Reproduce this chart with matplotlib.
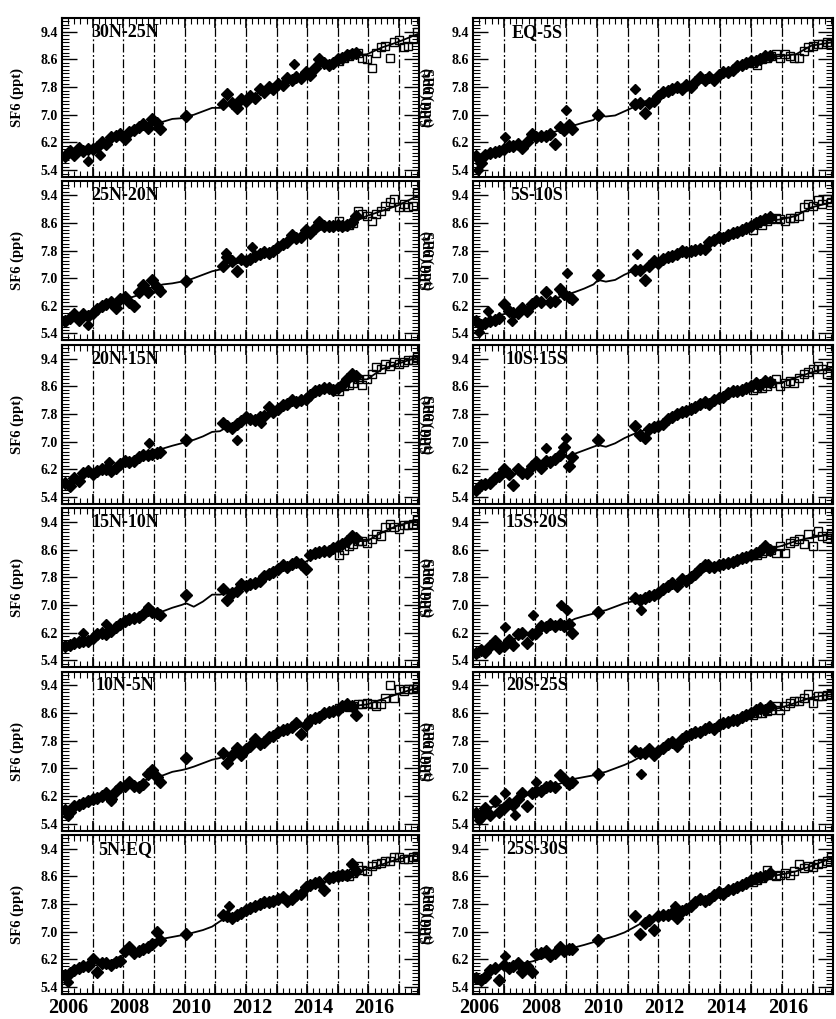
import numpy as np
import matplotlib
matplotlib.use("Agg")
import matplotlib.pyplot as plt
from matplotlib.ticker import FixedLocator, MultipleLocator

# latitude bands, left column then right column
BANDS_LEFT = ["30N-25N", "25N-20N", "20N-15N", "15N-10N", "10N-5N", "5N-EQ"]
BANDS_RIGHT = ["EQ-5S", "5S-10S", "10S-15S", "15S-20S", "20S-25S", "25S-30S"]

# sampling times (decimal year), shared by all bands
DIA_T = [2005.9, 2006.05, 2006.2, 2006.35, 2006.5, 2006.65, 2006.8, 2006.95,
         2007.1, 2007.25, 2007.4, 2007.55, 2007.7, 2007.85, 2008.0, 2008.15,
         2008.3, 2008.45, 2008.6, 2008.75, 2008.9, 2009.0,
         2009.85,
         2011.05, 2011.2, 2011.35, 2011.5, 2011.65, 2011.8, 2011.95, 2012.1,
         2012.25, 2012.4, 2012.55, 2012.7, 2012.85, 2013.0, 2013.15, 2013.3,
         2013.45, 2013.6, 2013.75, 2013.9, 2014.05, 2014.2, 2014.35, 2014.5,
         2014.65, 2014.8, 2014.95, 2015.1, 2015.25, 2015.4]
SQ_T = [2014.85, 2015.0, 2015.15, 2015.3, 2015.45, 2015.6, 2015.75, 2015.9,
        2016.05, 2016.2, 2016.35, 2016.5, 2016.65, 2016.8, 2016.95, 2017.1,
        2017.25, 2017.4]
LINE_T = [2005.85, 2006.25, 2006.75, 2007.25, 2007.75, 2008.25, 2008.75,
          2009.1, 2009.4, 2009.7, 2009.85, 2010.1, 2010.4, 2010.7, 2010.95,
          2011.25, 2011.75, 2012.25, 2012.75, 2013.25, 2013.75, 2014.25,
          2014.75, 2015.25, 2015.75, 2016.25, 2016.75, 2017.45]

# SF6 (ppt), filled diamonds
DIA_Y = {
    "30N-25N": [5.80, 5.95, 5.85, 6.05, 5.95, 6.0, 6.02, 6.08, 6.2, 6.15, 6.35,
                6.4, 6.45, 6.3, 6.5, 6.55, 6.65, 6.72, 6.62, 6.88, 6.75, 6.6,
                6.97,
                7.3, 7.6, 7.35, 7.2, 7.45, 7.4, 7.55, 7.5, 7.75, 7.65, 7.8,
                7.75, 7.9, 7.85, 8.05, 8.0, 8.1, 8.05, 8.25, 8.15, 8.35, 8.6,
                8.5, 8.45, 8.5, 8.62, 8.65, 8.72, 8.75, 8.8],
    "25N-20N": [5.75, 5.85, 5.95, 5.8, 5.95, 5.9, 6.0, 6.1, 6.2, 6.25, 6.3,
                6.15, 6.4, 6.45, 6.3, 6.2, 6.6, 6.8, 6.6, 6.95, 6.75, 6.62,
                6.92,
                7.35, 7.6, 7.5, 7.2, 7.55, 7.5, 7.55, 7.65, 7.7, 7.75, 7.72,
                7.8, 7.9, 8.0, 8.05, 8.25, 8.15, 8.2, 8.4, 8.3, 8.45, 8.62,
                8.5, 8.5, 8.5, 8.55, 8.52, 8.55, 8.62, 8.8],
    "20N-15N": [5.8, 5.72, 5.95, 5.85, 6.1, 6.15, 6.05, 6.15, 6.2, 6.2, 6.15,
                6.25, 6.35, 6.45, 6.4, 6.45, 6.55, 6.6, 6.6, 6.65, 6.68, 6.7,
                7.05,
                7.55, 7.45, 7.4, 7.5, 7.6, 7.7, 7.65, 7.62, 7.7, 7.75, 8.0,
                7.85, 7.95, 8.05, 8.1, 8.2, 8.15, 8.2, 8.22, 8.35, 8.45, 8.5,
                8.55, 8.55, 8.5, 8.55, 8.65, 8.8, 8.95, 8.9],
    "15N-10N": [5.8, 5.85, 5.9, 5.92, 5.95, 5.95, 6.05, 6.15, 6.2, 6.15, 6.25,
                6.35, 6.45, 6.55, 6.6, 6.62, 6.65, 6.75, 6.85, 6.8, 6.78, 6.7,
                7.3,
                7.45, 7.15, 7.35, 7.4, 7.6, 7.55, 7.6, 7.65, 7.7, 7.85, 7.9,
                7.95, 8.05, 8.15, 8.1, 8.2, 8.25, 8.2, 8.05, 8.45, 8.5, 8.52,
                8.55, 8.55, 8.65, 8.7, 8.75, 8.85, 9.0, 8.95],
    "10N-5N": [5.8, 5.75, 5.9, 5.95, 6.0, 6.05, 6.1, 6.15, 6.2, 6.3, 6.1,
               6.35, 6.45, 6.5, 6.6, 6.5, 6.45, 6.55, 6.85, 6.95, 6.75, 6.6,
               7.3,
               7.45, 7.15, 7.4, 7.6, 7.4, 7.55, 7.65, 7.85, 7.7, 7.75, 7.9,
               7.95, 8.05, 8.1, 8.15, 8.2, 8.3, 8.0, 8.25, 8.4, 8.45, 8.5,
               8.6, 8.62, 8.65, 8.7, 8.8, 8.85, 8.8, 8.55],
    "5N-EQ": [5.75, 5.8, 5.9, 5.95, 6.0, 6.0, 6.2, 5.85, 6.1, 6.1, 6.05,
              6.12, 6.15, 6.45, 6.55, 6.4, 6.45, 6.5, 6.55, 6.65, 7.0, 6.75,
              6.95,
              7.5, 7.45, 7.4, 7.5, 7.55, 7.62, 7.7, 7.75, 7.8, 7.85, 7.85,
              7.9, 7.95, 8.0, 7.9, 7.95, 8.05, 8.1, 8.3, 8.35, 8.4, 8.45,
              8.2, 8.55, 8.58, 8.6, 8.65, 8.65, 8.95, 8.75],
    "EQ-5S": [5.8, 5.6, 5.85, 5.9, 5.92, 5.95, 6.0, 6.1, 6.1, 6.15, 6.05,
              6.2, 6.45, 6.35, 6.4, 6.4, 6.45, 6.15, 6.65, 6.55, 6.7, 6.6,
              7.0,
              7.3, 7.35, 7.05, 7.35, 7.4, 7.55, 7.65, 7.7, 7.75, 7.8, 7.75,
              7.85, 7.8, 7.95, 8.1, 8.0, 8.1, 8.0, 8.15, 8.25, 8.25, 8.3,
              8.4, 8.45, 8.5, 8.55, 8.55, 8.6, 8.7, 8.7],
    "5S-10S": [5.75, 5.65, 5.7, 5.75, 5.8, 5.85, 6.25, 6.05, 6.0, 6.0, 6.15,
               6.05, 6.25, 6.35, 6.3, 6.6, 6.3, 6.35, 6.7, 6.55, 6.45, 6.4,
               7.1,
               7.25, 7.25, 6.95, 7.35, 7.5, 7.45, 7.55, 7.6, 7.65, 7.7, 7.8,
               7.75, 7.78, 7.82, 7.85, 7.85, 8.05, 8.1, 8.2, 8.15, 8.25, 8.3,
               8.35, 8.4, 8.45, 8.5, 8.6, 8.65, 8.7, 8.78],
    "10S-15S": [5.6, 5.75, 5.78, 5.8, 5.95, 6.0, 6.2, 6.05, 5.75, 6.2, 6.1,
                6.1, 6.3, 6.4, 6.25, 6.45, 6.4, 6.5, 6.6, 6.85, 6.3, 6.55,
                7.05,
                7.45, 7.2, 7.1, 7.35, 7.42, 7.45, 7.5, 7.65, 7.7, 7.8, 7.85,
                7.88, 7.95, 8.0, 8.1, 8.15, 8.1, 8.2, 8.25, 8.3, 8.4, 8.45,
                8.45, 8.5, 8.55, 8.6, 8.7, 8.65, 8.75, 8.72],
    "15S-20S": [5.6, 5.7, 5.65, 5.8, 5.95, 5.75, 5.8, 6.0, 5.85, 6.15, 6.2,
                5.9, 6.15, 6.2, 6.4, 6.35, 6.45, 6.4, 6.45, 6.4, 6.45, 6.2,
                6.8,
                7.2, 7.15, 7.2, 7.25, 7.3, 7.35, 7.45, 7.55, 7.65, 7.55, 7.75,
                7.7, 7.8, 7.9, 8.05, 8.15, 8.1, 8.1, 8.15, 8.2, 8.22, 8.25,
                8.3, 8.35, 8.4, 8.45, 8.5, 8.55, 8.7, 8.6],
    "20S-25S": [5.7, 5.6, 5.85, 5.65, 6.05, 5.75, 5.85, 6.0, 5.95, 6.1, 6.3,
                5.9, 6.3, 6.35, 6.35, 6.45, 6.5, 6.45, 6.8, 6.7, 6.55, 6.6,
                6.85,
                7.5, 7.45, 7.45, 7.55, 7.4, 7.5, 7.6, 7.7, 7.75, 7.65, 7.85,
                7.95, 8.0, 8.05, 8.05, 8.15, 8.2, 8.15, 8.25, 8.3, 8.35, 8.4,
                8.4, 8.5, 8.55, 8.6, 8.7, 8.75, 8.7, 8.8],
    "25S-30S": [5.65, 5.6, 5.7, 5.9, 5.95, 5.6, 6.05, 5.95, 6.0, 6.1, 5.85,
                6.0, 5.85, 6.35, 6.4, 6.45, 6.3, 6.4, 6.55, 6.45, 6.5, 6.5,
                6.75,
                7.45, 6.95, 7.25, 7.35, 7.05, 7.45, 7.5, 7.5, 7.55, 7.4, 7.6,
                7.65, 7.75, 7.85, 7.95, 7.9, 7.95, 8.05, 8.15, 8.1, 8.2, 8.25,
                8.3, 8.35, 8.4, 8.5, 8.55, 8.58, 8.6, 8.7],
}

# isolated diamonds away from the main band
OUT_T = {
    "30N-25N": [2006.65, 2007.05, 2013.36],
    "25N-20N": [2006.65, 2011.15, 2012.0],
    "20N-15N": [2007.35, 2008.65, 2011.5, 2012.3],
    "15N-10N": [2006.5, 2007.25, 2008.6],
    "10N-5N": [2006.0, 2007.4],
    "5N-EQ": [2006.0, 2011.25],
    "EQ-5S": [2005.95, 2006.85, 2008.8, 2011.05],
    "5S-10S": [2006.0, 2006.3, 2007.05, 2008.85, 2011.1],
    "10S-15S": [2008.15, 2008.8],
    "15S-20S": [2006.85, 2007.75, 2008.65, 2008.85, 2011.25, 2013.4],
    "20S-25S": [2006.0, 2006.85, 2007.15, 2007.85, 2011.25],
    "25S-30S": [2006.85, 2012.35],
}
OUT_Y = {
    "30N-25N": [5.65, 5.83, 8.48],
    "25N-20N": [5.65, 7.72, 7.9],
    "20N-15N": [6.4, 6.95, 7.05, 7.55],
    "15N-10N": [6.2, 6.45, 6.95],
    "10N-5N": [5.62, 6.05],
    "5N-EQ": [5.55, 7.75],
    "EQ-5S": [5.4, 6.35, 7.15, 7.75],
    "5S-10S": [5.45, 6.05, 5.75, 7.15, 7.7],
    "10S-15S": [6.8, 7.1],
    "15S-20S": [6.35, 6.7, 7.0, 6.85, 6.85, 8.2],
    "20S-25S": [5.5, 6.3, 5.65, 6.6, 6.85],
    "25S-30S": [6.3, 7.75],
}

# open squares (later data)
SQ_Y = {
    "30N-25N": [8.55, 8.65, 8.7, 8.75, 8.8, 8.65, 8.6, 8.35, 8.8, 8.95, 9.0,
                8.65, 9.1, 9.15, 8.95, 9.0, 9.2, 9.4],
    "25N-20N": [8.65, 8.5, 8.55, 8.6, 8.95, 8.85, 8.8, 8.65, 8.85, 8.95, 9.1,
                9.2, 9.3, 9.05, 9.15, 9.05, 9.1, 9.45],
    "20N-15N": [8.45, 8.6, 8.65, 8.7, 8.8, 8.65, 8.8, 8.95, 9.15, 9.1, 9.25,
                9.2, 9.3, 9.25, 9.3, 9.35, 9.35, 9.45],
    "15N-10N": [8.45, 8.6, 8.7, 8.75, 8.85, 8.85, 8.8, 8.9, 9.05, 9.0, 9.25,
                9.35, 9.25, 9.2, 9.3, 9.3, 9.35, 9.45],
    "10N-5N": [8.75, 8.8, 8.78, 8.8, 8.85, 8.85, 8.9, 8.85, 8.8, 8.85, 9.05,
               9.4, 9.05, 9.3, 9.25, 9.3, 9.3, 9.35],
    "5N-EQ": [8.6, 8.65, 8.62, 8.7, 8.9, 8.8, 8.75, 8.9, 8.95, 9.0, 9.05,
              9.05, 9.15, 9.15, 9.1, 9.1, 9.15, 9.2],
    "EQ-5S": [8.5, 8.45, 8.6, 8.65, 8.7, 8.75, 8.65, 8.75, 8.7, 8.65, 8.65,
              8.85, 8.95, 9.0, 9.05, 9.05, 9.1, 9.05],
    "5S-10S": [8.4, 8.6, 8.55, 8.65, 8.72, 8.75, 8.7, 8.65, 8.75, 8.75, 8.8,
               9.05, 9.15, 9.1, 9.25, 9.15, 9.3, 9.2],
    "10S-15S": [8.5, 8.55, 8.55, 8.6, 8.7, 8.8, 8.6, 8.7, 8.75, 8.7, 8.85,
                8.95, 9.0, 9.1, 9.2, 9.1, 8.95, 9.2],
    "15S-20S": [8.45, 8.45, 8.5, 8.55, 8.6, 8.5, 8.7, 8.5, 8.8, 8.85, 8.9,
                8.75, 9.05, 8.7, 9.15, 9.0, 8.95, 9.05],
    "20S-25S": [8.55, 8.6, 8.6, 8.65, 8.7, 8.8, 8.7, 8.8, 8.9, 8.95, 8.95,
                9.05, 9.15, 8.9, 9.1, 9.1, 9.12, 9.15],
    "25S-30S": [8.45, 8.5, 8.55, 8.8, 8.65, 8.6, 8.65, 8.7, 8.65, 8.75, 8.95,
                8.85, 8.9, 8.88, 8.95, 9.0, 9.05, 9.15],
}

# smoothed curve
LINE_Y = {
    "30N-25N": [5.8, 5.95, 6.03, 6.2, 6.37, 6.55, 6.75, 6.8, 6.88, 6.9, 6.95,
                7.0, 7.1, 7.2, 7.2, 7.3, 7.45, 7.65, 7.8, 8.0, 8.2, 8.4, 8.55,
                8.7, 8.75, 8.95, 9.1, 9.35],
    "25N-20N": [5.8, 5.9, 6.05, 6.2, 6.35, 6.5, 6.75, 6.82, 6.85, 6.9, 6.92,
                7.0, 7.1, 7.2, 7.25, 7.35, 7.5, 7.65, 7.8, 8.0, 8.2, 8.4, 8.5,
                8.6, 8.8, 8.95, 9.1, 9.4],
    "20N-15N": [5.78, 5.95, 6.08, 6.2, 6.35, 6.5, 6.65, 6.8, 6.88, 6.95, 7.0,
                7.05, 7.15, 7.28, 7.3, 7.45, 7.6, 7.7, 7.9, 8.1, 8.2, 8.45,
                8.55, 8.8, 8.8, 9.1, 9.25, 9.45],
    "15N-10N": [5.8, 5.88, 6.0, 6.2, 6.4, 6.6, 6.75, 6.82, 6.92, 7.0, 7.05,
                6.95, 7.1, 7.3, 7.3, 7.35, 7.55, 7.7, 7.95, 8.15, 8.25, 8.5,
                8.6, 8.85, 8.85, 9.1, 9.3, 9.45],
    "10N-5N": [5.8, 5.9, 6.05, 6.25, 6.4, 6.55, 6.75, 6.8, 6.9, 6.95, 6.98,
               7.05, 7.15, 7.25, 7.3, 7.4, 7.55, 7.7, 7.9, 8.1, 8.25, 8.45,
               8.65, 8.8, 8.85, 9.0, 9.15, 9.35],
    "5N-EQ": [5.75, 5.92, 6.0, 6.1, 6.3, 6.45, 6.6, 6.8, 6.85, 6.9, 6.92,
              6.98, 7.05, 7.15, 7.3, 7.45, 7.6, 7.75, 7.9, 7.95, 8.15, 8.4,
              8.55, 8.7, 8.8, 8.95, 9.1, 9.25],
    "EQ-5S": [5.75, 5.9, 6.0, 6.15, 6.3, 6.45, 6.6, 6.7, 6.78, 6.85, 7.0,
              6.95, 6.98, 7.1, 7.2, 7.35, 7.5, 7.7, 7.8, 7.95, 8.1, 8.3, 8.5,
              8.65, 8.7, 8.75, 9.0, 9.1],
    "5S-10S": [5.7, 5.8, 5.95, 6.05, 6.2, 6.35, 6.5, 6.6, 6.7, 6.82, 6.95,
               6.9, 6.95, 7.1, 7.2, 7.3, 7.45, 7.6, 7.75, 7.9, 8.1, 8.3, 8.45,
               8.65, 8.7, 8.8, 9.05, 9.2],
    "10S-15S": [5.6, 5.75, 5.95, 6.1, 6.25, 6.4, 6.55, 6.65, 6.75, 6.85, 6.9,
                6.85, 6.95, 7.1, 7.2, 7.3, 7.45, 7.65, 7.85, 8.05, 8.2, 8.4,
                8.55, 8.7, 8.7, 8.85, 9.0, 9.15],
    "15S-20S": [5.6, 5.75, 5.9, 6.05, 6.2, 6.35, 6.45, 6.6, 6.68, 6.75, 6.8,
                6.85, 6.95, 7.05, 7.1, 7.25, 7.4, 7.6, 7.75, 7.95, 8.15, 8.3,
                8.45, 8.6, 8.7, 8.85, 8.95, 9.05],
    "20S-25S": [5.7, 5.85, 5.95, 6.1, 6.3, 6.45, 6.6, 6.7, 6.75, 6.8, 6.85,
                6.9, 7.0, 7.1, 7.2, 7.35, 7.5, 7.65, 7.85, 8.05, 8.2, 8.4,
                8.55, 8.7, 8.75, 8.9, 9.05, 9.15],
    "25S-30S": [5.65, 5.8, 5.95, 6.05, 6.15, 6.3, 6.45, 6.55, 6.62, 6.7, 6.75,
                6.8, 6.88, 6.98, 7.1, 7.25, 7.4, 7.55, 7.7, 7.9, 8.1, 8.25,
                8.4, 8.6, 8.65, 8.75, 8.9, 9.15],
}

YTICKS = [5.4, 6.2, 7.0, 7.8, 8.6, 9.4]
YEAR_LABELS = [2006, 2008, 2010, 2012, 2014, 2016]
YEAR_LINES = [2006.8, 2007.8, 2008.8, 2009.8, 2010.8, 2011.8, 2012.8,
              2013.8, 2014.8, 2015.8, 2016.8]

plt.rcParams['font.family'] = ['Liberation Serif', 'DejaVu Serif']
plt.rcParams['font.weight'] = 'bold'

W, H = 836, 1019
fig = plt.figure(figsize=(W / 100, H / 100), dpi=100)

col_left = [62, 473]
col_width = [357, 360]
row_h = 159
row_pitch = 163.4
top0 = 18

for col, bands in enumerate([BANDS_LEFT, BANDS_RIGHT]):
    for row, name in enumerate(bands):
        top = top0 + row * row_pitch
        ax = fig.add_axes([col_left[col] / W, 1 - (top + row_h) / H,
                           col_width[col] / W, row_h / H])

        for x in YEAR_LINES:
            ax.axvline(x, color='k', lw=0.9, ls=(0, (7, 2, 1.5, 2)), zorder=1)

        ax.plot(LINE_T, LINE_Y[name], color='k', lw=1.3, zorder=2)
        ax.plot(DIA_T, DIA_Y[name], ls='none', marker='D', ms=6,
                color='k', zorder=3)
        ax.plot(OUT_T[name], OUT_Y[name], ls='none', marker='D', ms=5.5,
                color='k', zorder=3)
        ax.plot(SQ_T, SQ_Y[name], ls='none', marker='s', ms=6,
                mfc='none', mec='k', mew=1.0, zorder=4)

        ax.set_xlim(2005.8, 2017.45)
        ax.set_ylim(5.2, 9.8)
        ax.set_yticks(YTICKS)
        ax.set_yticklabels([f"{v:.1f}" for v in YTICKS])
        ax.yaxis.set_minor_locator(MultipleLocator(0.1))
        ax.set_xticks(YEAR_LINES)
        ax.xaxis.set_minor_locator(FixedLocator(np.arange(2005.8, 2017.5, 0.2)))

        ax.tick_params(axis='both', which='both', direction='in',
                       top=True, right=True, labelbottom=False)
        ax.tick_params(axis='y', which='major', length=11, width=1.0,
                       labelsize=10, pad=3)
        ax.tick_params(axis='y', which='minor', length=5, width=0.8)
        ax.tick_params(axis='x', which='major', length=7, width=1.2)
        ax.tick_params(axis='x', which='minor', length=4, width=0.8)
        for sp in ax.spines.values():
            sp.set_linewidth(1.5)

        ax.text(0.177, 0.91, name, transform=ax.transAxes, ha='center',
                va='center', fontsize=13, fontweight='bold')

        if row == len(bands) - 1:
            sec = ax.secondary_xaxis('bottom')
            sec.set_xticks(YEAR_LABELS)
            sec.set_xticklabels([str(y) for y in YEAR_LABELS],
                                fontsize=14.5, fontweight='bold')
            sec.tick_params(length=0, pad=3)
            sec.spines['bottom'].set_visible(False)

        yc = 1 - (top + row_h / 2) / H
        if col == 0:
            fig.text(17 / W, yc, "SF6 (ppt)", rotation=90, ha='center',
                     va='center', fontsize=10.5, fontweight='bold')
        else:
            fig.text(427 / W, yc, "SF6 (ppt)", rotation=90, ha='center',
                     va='center', fontsize=10.5, fontweight='bold')
            fig.text(427 / W, yc, "SF6 (ppt)", rotation=270, ha='center',
                     va='center', fontsize=10.5, fontweight='bold')

fig.savefig("out.png", dpi=100)
